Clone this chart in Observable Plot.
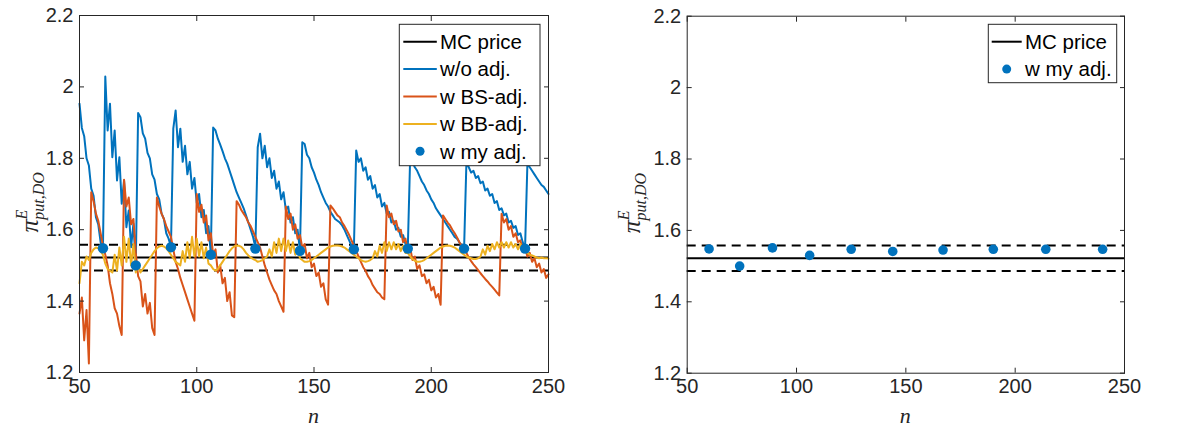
<!DOCTYPE html>
<html><head><meta charset="utf-8">
<script src="https://cdn.jsdelivr.net/npm/d3@7"></script>
<script src="https://cdn.jsdelivr.net/npm/@observablehq/plot@0.6"></script>
<style>
body{margin:0;background:#fff;}
#wrap{display:flex;width:1181px;height:428px;overflow:hidden;}
#wrap svg{display:block;}
</style></head><body><div id="wrap"></div>
<script>
// n grid starts at 50 and steps by 1 up to 250
const nStart = 50;

// w/o adj. (n = 50..250)
const woAdj = [
1.953,1.885,1.862,1.800,1.780,1.715,1.695,1.635,1.615,1.565,1.548,
2.029,1.878,1.953,1.803,1.878,1.738,1.803,1.673,1.738,1.607,1.654,1.551,1.617,1.500,
1.927,1.915,1.870,1.855,1.815,1.800,1.755,1.740,1.700,1.685,1.645,1.630,1.590,1.575,1.552,
1.883,1.934,1.831,1.883,1.790,1.835,1.755,1.790,1.715,1.745,1.675,1.700,1.635,1.655,1.590,1.610,1.532,
1.886,1.878,1.855,1.838,1.820,1.800,1.785,1.765,1.745,1.725,1.705,1.690,1.675,1.660,1.640,1.620,1.600,1.580,1.550,
1.831,1.869,1.800,1.835,1.775,1.800,1.745,1.765,1.715,1.735,1.685,1.705,1.655,1.665,1.620,1.635,1.590,1.600,1.542,
1.845,1.840,1.810,1.800,1.775,1.760,1.740,1.725,1.705,1.690,1.675,1.665,1.650,1.640,1.630,1.625,1.620,1.612,1.600,1.585,1.570,1.555,1.545,
1.822,1.790,1.800,1.765,1.775,1.740,1.750,1.715,1.725,1.690,1.700,1.665,1.675,1.645,1.650,1.620,1.625,1.600,1.605,1.580,1.585,1.560,1.547,
1.800,1.790,1.775,1.765,1.750,1.735,1.725,1.710,1.700,1.685,1.675,1.660,1.650,1.640,1.630,1.620,1.610,1.600,1.590,1.580,1.575,1.565,1.555,1.547,
1.790,1.775,1.760,1.765,1.745,1.750,1.730,1.735,1.710,1.715,1.695,1.700,1.675,1.680,1.655,1.660,1.640,1.645,1.620,1.625,1.605,1.610,1.585,1.590,1.565,1.547,
1.785,1.775,1.765,1.755,1.745,1.735,1.725,1.720,1.710,1.700
];

// w BS-adj. (n = 50..250)
const bsAdj = [
1.365,1.410,1.290,1.375,1.225,
1.705,1.680,1.645,1.625,1.590,1.555,1.530,1.500,1.450,1.420,1.380,1.365,1.330,1.305,
1.740,1.665,1.690,1.615,1.630,1.535,1.470,1.455,1.385,1.420,1.365,1.395,1.325,1.305,
1.690,1.665,1.645,1.630,1.610,1.595,1.580,1.545,1.510,1.490,1.465,1.445,1.425,1.405,1.385,1.365,1.345,
1.700,1.650,1.670,1.620,1.640,1.570,1.590,1.530,1.545,1.480,1.500,1.450,1.465,1.400,1.425,1.360,1.355,
1.680,1.670,1.655,1.645,1.635,1.620,1.610,1.595,1.580,1.565,1.550,1.525,1.500,1.480,1.460,1.445,1.430,1.420,1.400,1.385,1.370,
1.665,1.630,1.645,1.600,1.615,1.575,1.585,1.550,1.560,1.520,1.535,1.495,1.505,1.470,1.480,1.440,1.450,1.405,1.390,
1.668,1.660,1.650,1.640,1.635,1.620,1.610,1.598,1.585,1.570,1.555,1.540,1.525,1.510,1.495,1.485,1.470,1.460,1.445,1.435,1.425,1.420,1.410,1.405,
1.668,1.635,1.645,1.615,1.625,1.595,1.600,1.565,1.575,1.540,1.550,1.515,1.525,1.490,1.500,1.470,1.475,1.450,1.460,1.430,1.440,1.410,1.420,1.390,
1.640,1.630,1.620,1.612,1.600,1.590,1.578,1.565,1.555,1.545,1.535,1.522,1.512,1.503,1.495,1.487,1.478,1.470,1.462,1.455,1.447,1.440,1.432,1.424,1.416,
1.645,1.620,1.630,1.600,1.610,1.580,1.590,1.565,1.570,1.545,1.550,1.525,1.535,1.510,1.520,1.495,1.505,1.480,1.490,1.465,1.475
];

// w BB-adj. (n = 50..250)
const bbAdj = [
1.450,1.510,1.500,1.525,1.515,1.535,1.545,1.550,1.548,1.540,1.530,
1.505,1.490,1.485,1.480,
1.530,1.485,1.550,1.500,1.580,1.510,1.575,1.500,1.560,1.480,1.500,
1.480,1.490,1.500,1.510,1.520,1.530,1.540,1.548,1.553,1.555,1.553,1.548,1.540,1.530,
1.520,1.510,1.505,1.500,
1.540,1.510,1.565,1.520,1.580,1.525,1.575,1.525,1.565,1.520,1.550,1.505,1.500,
1.490,1.485,1.490,1.500,1.510,1.520,1.530,1.540,1.548,1.553,1.556,1.555,1.552,1.545,1.535,1.528,1.522,1.518,1.515,
1.510,1.512,1.515,1.520,1.525,
1.545,1.525,1.565,1.535,1.575,1.540,1.575,1.540,1.570,1.535,1.565,1.530,1.550,1.520,
1.515,1.510,1.510,1.512,1.515,1.520,1.525,1.530,1.535,1.540,1.545,1.550,1.553,1.555,1.556,1.556,1.555,1.553,1.550,1.545,1.540,1.535,1.530,1.525,1.520,1.515,1.512,1.510,1.512,1.515,1.520,
1.540,1.525,1.555,1.535,1.565,1.540,1.565,1.545,1.565,1.545,1.560,1.540,1.555,1.535,1.535,
1.525,1.518,1.513,1.510,1.510,1.512,1.515,1.520,1.525,1.530,1.535,1.540,1.545,1.550,1.553,1.555,1.556,1.555,1.553,1.550,1.545,1.540,1.535,1.530,1.525,1.522,1.520,1.518,1.518,1.520,1.525,
1.545,1.530,1.555,1.540,1.560,1.545,1.565,1.550,1.565,1.550,1.565,1.550,1.565,1.550,1.560,1.545,1.560,1.540,1.545,
1.535,1.530,1.528,1.525,1.522,1.520,1.522,1.520,1.520,1.519
];

// w my adj.
const myAdjN = [60, 74, 89, 106, 125, 144, 167, 190, 214, 240];
const myAdjV = [1.548, 1.500, 1.551, 1.530, 1.547, 1.541, 1.545, 1.547, 1.547, 1.547];

// MC price and its confidence band
const mcPrice = [1.522];
const mcBand = [1.486, 1.558];

// axes
const xTicks = [50, 100, 150, 200, 250];
const xTickLabels = ["50", "100", "150", "200", "250"];
const yTicks = [1.2, 1.4, 1.6, 1.8, 2.0, 2.2];
const yTickLabels = ["1.2", "1.4", "1.6", "1.8", "2", "2.2"];

const legendLeft = ["MC price", "w/o adj.", "w BS-adj.", "w BB-adj.", "w my adj."];
const legendRight = ["MC price", "w my adj."];

const C = {mc: "#000000", wo: "#0072BD", bs: "#D95319", bb: "#EDB120", my: "#0072BD"};
const AX = "#262626";

const toRows = (vals) => vals.map((v, i) => ({n: nStart + i, v}));
const dots = myAdjN.map((n, i) => ({n, v: myAdjV[i]}));

function panel({width, ml, mr, mt, mb, marks}) {
  return Plot.plot({
    width, height: 428,
    marginLeft: ml, marginRight: mr, marginTop: mt, marginBottom: mb,
    x: {domain: [50, 250]},
    y: {domain: [1.2, 2.2]},
    style: {fontFamily: "'Liberation Sans', Arial, sans-serif", fontSize: "20px", color: AX, background: "white", overflow: "visible"},
    marks: [
      Plot.ruleY(mcPrice, {stroke: C.mc, strokeWidth: 2}),
      Plot.ruleY(mcBand, {stroke: C.mc, strokeWidth: 2, strokeDasharray: "9,6"}),
      ...marks,
      Plot.frame({stroke: AX, strokeWidth: 1}),
      Plot.axisX({anchor: "bottom", ticks: xTicks, tickSize: -5, tickPadding: 11, tickFormat: d => xTickLabels[xTicks.indexOf(d)], label: null}),
      Plot.axisX({anchor: "top", ticks: xTicks, tickSize: -5, tickFormat: () => "", label: null}),
      Plot.axisY({anchor: "left", ticks: yTicks, tickSize: -5, tickPadding: 11, tickFormat: d => yTickLabels[yTicks.indexOf(d)], label: null}),
      Plot.axisY({anchor: "right", ticks: yTicks, tickSize: -5, tickFormat: () => "", label: null})
    ]
  });
}

function decorate(svg, {width, ml, mr, mt, mb, legend, box}) {
  const s = d3.select(svg);
  const fx = ml, fr = width - mr, ft = mt, fb = 428 - mb;
  // x label
  s.append("text").attr("x", (fx + fr) / 2).attr("y", 423)
    .attr("text-anchor", "middle").attr("font-family", "'Liberation Serif', 'DejaVu Serif', serif")
    .attr("font-style", "italic").attr("font-size", 22).attr("fill", AX).text("n");
  // y label
  const t = s.append("text").attr("transform", `translate(${fx - box.ylab}, ${(ft + fb) / 2 + 39}) rotate(-90)`)
    .attr("text-anchor", "start")
    .attr("font-family", "'Liberation Serif', 'DejaVu Serif', serif").attr("font-style", "italic").attr("fill", AX);
  t.append("tspan").attr("font-size", 26).text("π");
  t.append("tspan").attr("font-size", 16).attr("dy", -11).text("E");
  t.append("tspan").attr("font-size", 16).attr("dx", -10).attr("dy", 17).text("put,DO");
  // legend
  const bx = fr - box.right - box.w, by = ft + box.top;
  const g = s.append("g");
  g.append("rect").attr("x", bx).attr("y", by).attr("width", box.w).attr("height", box.h)
    .attr("fill", "white").attr("stroke", AX).attr("stroke-width", 1);
  legend.forEach((it, i) => {
    const cy = by + 17.4 + i * 27.4;
    if (it.kind === "line") {
      g.append("line").attr("x1", bx + box.l1).attr("x2", bx + box.l2).attr("y1", cy).attr("y2", cy)
        .attr("stroke", it.color).attr("stroke-width", 2);
    } else {
      g.append("circle").attr("cx", bx + (box.l1 + box.l2) / 2).attr("cy", cy).attr("r", 4.5).attr("fill", it.color);
    }
    g.append("text").attr("x", bx + box.tx).attr("y", cy + 7.3).attr("text-anchor", "start")
      .attr("font-family", "'Liberation Sans', Arial, sans-serif").attr("font-size", 20.5).attr("fill", "#000").text(it.label);
  });
}

const L = {width: 590, ml: 79, mr: 42, mt: 15, mb: 56};
const left = panel({...L, marks: [
  Plot.line(toRows(woAdj), {x: "n", y: "v", stroke: C.wo, strokeWidth: 2}),
  Plot.line(toRows(bsAdj), {x: "n", y: "v", stroke: C.bs, strokeWidth: 2}),
  Plot.line(toRows(bbAdj), {x: "n", y: "v", stroke: C.bb, strokeWidth: 2}),
  Plot.dot(dots, {x: "n", y: "v", r: 5.2, fill: C.my, stroke: "none"})
]});
decorate(left, {...L,
  legend: [
    {kind: "line", color: C.mc, label: legendLeft[0]},
    {kind: "line", color: C.wo, label: legendLeft[1]},
    {kind: "line", color: C.bs, label: legendLeft[2]},
    {kind: "line", color: C.bb, label: legendLeft[3]},
    {kind: "dot", color: C.my, label: legendLeft[4]}
  ],
  box: {right: 8, top: 9.3, w: 140.7, h: 141.4, l1: 4, l2: 37.5, tx: 40.7, ylab: 41}
});

const R = {width: 591, ml: 96.7, mr: 57, mt: 15.7, mb: 55.3};
const right = panel({...R, marks: [
  Plot.dot(dots, {x: "n", y: "v", r: 4.8, fill: C.my, stroke: "none"})
]});
decorate(right, {...R,
  legend: [
    {kind: "line", color: C.mc, label: legendRight[0]},
    {kind: "dot", color: C.my, label: legendRight[1]}
  ],
  box: {right: 7.3, top: 8.6, w: 128.4, h: 58.4, l1: 3.4, l2: 33.4, tx: 36.7, ylab: 47}
});

document.getElementById("wrap").append(left, right);
</script>
</body></html>
